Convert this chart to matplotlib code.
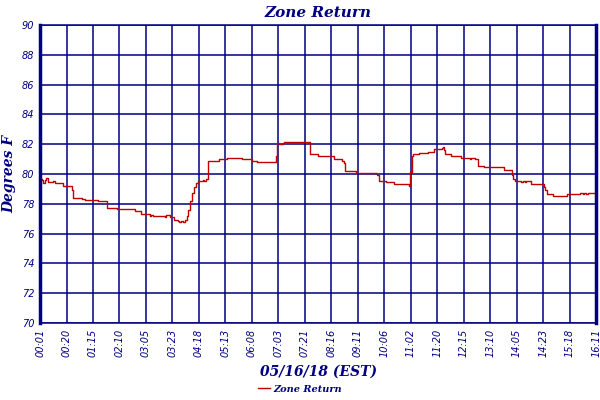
import matplotlib
matplotlib.use('Agg')
import matplotlib.pyplot as plt

# tick labels along the time axis (one per grid column)
time_labels = ['00:01', '00:20', '01:15', '02:10', '03:05', '03:23', '04:18',
               '05:13', '06:08', '07:03', '07:21', '08:16', '09:11', '10:06',
               '11:02', '11:20', '12:15', '13:10', '14:05', '14:23', '15:18',
               '16:11']

# breakpoints of the trace, x in tick-column units, temperature in deg F
trace_pos = [0.00, 0.09, 0.12, 0.19, 0.23, 0.29, 0.50, 0.56, 0.88, 1.22,
             1.25, 1.57, 1.63, 1.69, 2.19, 2.53, 2.92, 3.60, 3.82, 4.14,
             4.20, 4.26, 4.70, 4.76, 4.89, 5.05, 5.20, 5.26, 5.33, 5.41,
             5.48, 5.55, 5.60, 5.65, 5.73, 5.80, 5.88, 5.95, 6.14, 6.20,
             6.27, 6.33, 6.36, 6.77, 7.06, 7.64, 8.00, 8.21, 8.90, 8.94,
             8.96, 9.02, 9.17, 9.21, 10.19, 10.21, 10.50, 10.65, 10.71, 11.09,
             11.40, 11.47, 11.50, 11.94, 12.72, 12.78, 13.07, 13.38, 13.95, 13.97,
             14.04, 14.07, 14.32, 14.64, 14.89, 15.16, 15.23, 15.26, 15.29, 15.51,
             15.89, 16.23, 16.29, 16.35, 16.42, 16.52, 16.54, 16.77, 17.52, 17.82,
             17.86, 17.92, 18.17, 18.23, 18.30, 18.36, 18.55, 19.02, 19.07, 19.15,
             19.37, 19.90, 20.40, 20.49, 20.55, 20.61, 20.68, 21.00]
zone_return = [79.65, 79.60, 79.40, 79.60, 79.70, 79.45, 79.50, 79.38, 79.20, 78.90,
               78.40, 78.30, 78.35, 78.23, 78.18, 77.70, 77.65, 77.55, 77.30, 77.18,
               77.25, 77.18, 77.10, 77.22, 77.13, 76.90, 76.85, 76.75, 76.85, 76.75,
               76.90, 77.20, 77.60, 78.20, 78.75, 79.10, 79.40, 79.50, 79.60, 79.50,
               79.65, 80.20, 80.85, 81.00, 81.10, 81.00, 80.85, 80.80, 81.20, 81.85,
               82.10, 82.00, 82.10, 82.15, 81.70, 81.35, 81.22, 81.18, 81.22, 81.00,
               80.85, 80.75, 80.22, 80.10, 79.95, 79.55, 79.45, 79.33, 79.20, 80.15,
               81.20, 81.35, 81.40, 81.50, 81.65, 81.75, 81.80, 81.60, 81.35, 81.22,
               81.10, 81.00, 81.07, 81.10, 81.00, 80.85, 80.54, 80.45, 80.30, 79.95,
               79.64, 79.50, 79.45, 79.55, 79.45, 79.50, 79.35, 79.10, 78.90, 78.66,
               78.52, 78.66, 78.70, 78.66, 78.75, 78.66, 78.72, 78.72]

navy = '#000080'
red = '#c00000'
font = 'DejaVu Serif'

fig = plt.figure(figsize=(6, 4), dpi=100, facecolor='white')
ax = fig.add_axes([0.0667, 0.1925, 0.927, 0.745])

ax.plot(trace_pos, zone_return, color=red, linewidth=1.0,
        drawstyle='steps-post', label='Zone Return')

ax.set_xlim(0, len(time_labels) - 1)
ax.set_ylim(70, 90)
ax.set_xticks(range(len(time_labels)))
ax.set_xticklabels(time_labels, rotation=90)
ax.set_yticks(range(70, 91, 2))

ax.grid(True, color=navy, linewidth=1.1)
ax.set_axisbelow(True)
ax.tick_params(length=0, labelsize=7, colors=navy, pad=4)
for lab in ax.get_xticklabels() + ax.get_yticklabels():
    lab.set_fontstyle('italic')

for side in ['left', 'right']:
    ax.spines[side].set_color(navy)
    ax.spines[side].set_linewidth(2.5)
for side in ['top', 'bottom']:
    ax.spines[side].set_color(navy)
    ax.spines[side].set_linewidth(1.1)

ax.set_title('Zone Return', fontsize=11, color=navy, fontstyle='italic',
             fontweight='bold', family=font, pad=6)
ax.set_ylabel('Degrees F', fontsize=10, color=navy, fontstyle='italic',
              fontweight='bold', family=font, labelpad=4)
ax.set_xlabel('05/16/18 (EST)', fontsize=10, color=navy, fontstyle='italic',
              fontweight='bold', family=font, labelpad=6)

leg = fig.legend(loc='center', bbox_to_anchor=(0.5, 0.027), frameon=False,
                 handlelength=1.2, handletextpad=0.4,
                 prop={'family': font, 'style': 'italic', 'weight': 'bold', 'size': 7})
for t in leg.get_texts():
    t.set_color(navy)

fig.savefig('out.png', dpi=100, facecolor='white')
